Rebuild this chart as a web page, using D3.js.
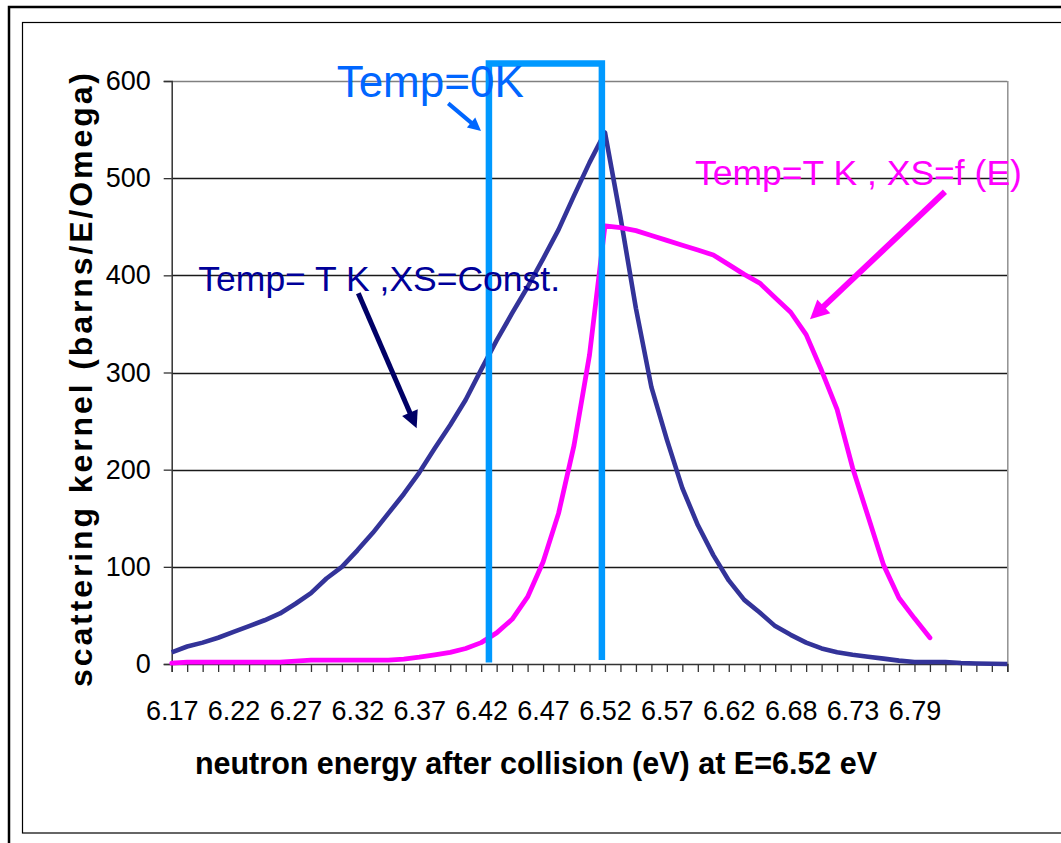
<!DOCTYPE html>
<html>
<head>
<meta charset="utf-8">
<script src="https://cdn.jsdelivr.net/npm/d3@7"></script>
<style>
  html, body { margin: 0; padding: 0; background: #fff; }
  svg { display: block; }
  text { font-family: "Liberation Sans", Arial, sans-serif; }
</style>
</head>
<body>
<svg id="chart" width="1061" height="843"></svg>
<script>
// ---------------- data ----------------
const categories = [
  "6.17","6.18","6.19","6.21",
  "6.22","6.23","6.24","6.26",
  "6.27","6.28","6.29","6.31",
  "6.32","6.33","6.34","6.36",
  "6.37","6.38","6.39","6.41",
  "6.42","6.43","6.44","6.46",
  "6.47","6.48","6.49","6.51",
  "6.52","6.53","6.54","6.56",
  "6.57","6.58","6.59","6.61",
  "6.62","6.63","6.65","6.66",
  "6.68","6.69","6.70","6.72",
  "6.73","6.74","6.76","6.77",
  "6.79","6.80","6.81","6.83",
  "6.84","6.86","6.87"
];
// Temp = T K, XS = const.
const seriesConst = [
  12, 18, 22, 27, 33, 39, 45, 52, 62, 73,
  88, 100, 117, 135, 155, 175, 197, 222, 246, 272,
  303, 333, 361, 388, 417, 447, 482, 516, 547, 460,
  366, 285, 231, 181, 143, 112, 86, 66, 53, 39,
  30, 22, 16, 12, 9.5, 7.5, 5.5, 3.5, 2, 2,
  2, 1, 0.5, 0.3, 0
];
// Temp = T K, XS = f(E)
const seriesFE = [
  1, 2, 2, 2, 2, 2, 2, 2, 3, 4,
  4, 4, 4, 4, 4, 5, 7, 9.5, 12, 16,
  22, 32, 46, 69, 105, 155, 225, 318, 451, 449,
  446, 441, 436, 431, 426, 421, 411, 401, 392, 377,
  362, 339, 302, 262, 202, 152, 102, 68, 47, 27,
  null, null, null, null, null
];
// Temp = 0 K outline (category index, value)
const zeroKIndex = [20.5, 20.5, 27.8, 27.8];
const zeroKValue = [1.5, 618, 618, 4];

const yTicks = [0, 100, 200, 300, 400, 500, 600];
const xLabelEvery = 4;
const xLastLabel = 48;

const yTitle = "scattering kernel (barns/E/Omega)";
const xTitle = "neutron energy after collision (eV) at E=6.52 eV";

// annotations in data space (category index, value)
const annotations = [
  { text: "Temp=0K", idx: 10.66, val: 584, size: 44, color: "#0066ff",
    arrow: [[17.87, 577], [19.99, 548.6]], aw: 4, head: 13 },
  { text: "Temp= T K ,XS=Const.", idx: 1.72, val: 384, size: 35.5, color: "#000099",
    arrow: [[12.06, 381.5], [15.83, 242.6]], aw: 5, head: 17, acolor: "#000066" },
  { text: "Temp=T K , XS=f (E)", idx: 33.82, val: 493, size: 35.5, color: "#ff00ff",
    arrow: [[49.97, 486], [41.25, 354.7]], aw: 6, head: 19 }
];

// ---------------- layout ----------------
const svg = d3.select("#chart");
const plot = { left: 171.7, right: 1007.3, top: 81, bottom: 664 };

const x = d3.scalePoint().domain(categories).range([plot.left, plot.right]).padding(0);
const xi = d3.scaleLinear().domain([0, categories.length - 1]).range([plot.left, plot.right]);
const y = d3.scaleLinear().domain([0, 600]).range([plot.bottom, plot.top]);

// frames
svg.append("rect").attr("x", 9).attr("y", 7).attr("width", 1200).attr("height", 1000)
  .attr("fill", "none").attr("stroke", "#000").attr("stroke-width", 2.5);
svg.append("rect").attr("x", 22.5).attr("y", 22.5).attr("width", 1200).attr("height", 810.5)
  .attr("fill", "none").attr("stroke", "#000").attr("stroke-width", 1.2);

// gridlines
svg.append("g").selectAll("line").data(yTicks.filter(d => d > 0)).join("line")
  .attr("x1", plot.left).attr("x2", plot.right)
  .attr("y1", d => Math.round(y(d)) + 0.5).attr("y2", d => Math.round(y(d)) + 0.5)
  .attr("stroke", d => d === 600 ? "#808080" : "#1a1a1a").attr("stroke-width", 1.3);
// plot-area right border
svg.append("line").attr("x1", plot.right + 0.5).attr("x2", plot.right + 0.5)
  .attr("y1", plot.top).attr("y2", plot.bottom).attr("stroke", "#909090").attr("stroke-width", 1.5);

// y axis
const yAxis = svg.append("g").attr("transform", `translate(${plot.left},0)`)
  .call(d3.axisLeft(y).tickValues(yTicks).tickSize(8).tickPadding(13).tickFormat(d3.format("d")));
yAxis.select(".domain").attr("stroke", "#333").attr("stroke-width", 1.5);
yAxis.selectAll(".tick line").attr("stroke", "#333").attr("stroke-width", 1.3);
yAxis.selectAll("text").attr("font-size", 27).attr("fill", "#000")
  .attr("font-family", "'Liberation Sans', Arial, sans-serif");

// x axis
const xAxis = svg.append("g").attr("transform", `translate(0,${plot.bottom})`)
  .call(d3.axisBottom(x).tickSize(8).tickPadding(29)
    .tickFormat((d, i) => (i % xLabelEvery === 0 && i <= xLastLabel) ? d : ""));
xAxis.select(".domain").attr("stroke", "#333").attr("stroke-width", 1.5);
xAxis.selectAll(".tick line").attr("stroke", "#333").attr("stroke-width", 1.3);
xAxis.selectAll("text").attr("font-size", 27).attr("fill", "#000")
  .attr("font-family", "'Liberation Sans', Arial, sans-serif");

// series lines
const line = d3.line()
  .defined(d => d.v !== null)
  .x(d => x(d.c)).y(d => y(d.v));

svg.append("path")
  .datum(categories.map((c, i) => ({ c, v: seriesConst[i] })))
  .attr("d", line).attr("fill", "none").attr("stroke", "#333399")
  .attr("stroke-width", 4.6).attr("stroke-linejoin", "round");

svg.append("path")
  .datum(categories.map((c, i) => ({ c, v: seriesFE[i] })))
  .attr("d", line).attr("fill", "none").attr("stroke", "#ff00ff")
  .attr("stroke-width", 4.8).attr("stroke-linejoin", "round").attr("stroke-linecap", "round");

// Temp = 0K outline
const zeroLine = d3.line().x(d => xi(d[0])).y(d => y(d[1]));
svg.append("path")
  .datum(zeroKIndex.map((d, i) => [d, zeroKValue[i]]))
  .attr("d", zeroLine).attr("fill", "none").attr("stroke", "#0099ff")
  .attr("stroke-width", 6.5).attr("stroke-linejoin", "miter");

// annotations
annotations.forEach(a => {
  svg.append("text")
    .attr("x", xi(a.idx)).attr("y", y(a.val))
    .attr("font-size", a.size).attr("fill", a.color)
    .text(a.text);
  const [p0, p1] = a.arrow.map(p => [xi(p[0]), y(p[1])]);
  const dx = p1[0] - p0[0], dy = p1[1] - p0[1];
  const len = Math.hypot(dx, dy), ux = dx / len, uy = dy / len;
  const base = [p1[0] - ux * a.head, p1[1] - uy * a.head];
  const hw = a.head * 0.5;
  const col = a.acolor || a.color;
  svg.append("line")
    .attr("x1", p0[0]).attr("y1", p0[1]).attr("x2", base[0] + ux * 2).attr("y2", base[1] + uy * 2)
    .attr("stroke", col).attr("stroke-width", a.aw);
  svg.append("polygon")
    .attr("points", [p1, [base[0] - uy * hw, base[1] + ux * hw], [base[0] + uy * hw, base[1] - ux * hw]]
      .map(p => p.join(",")).join(" "))
    .attr("fill", col);
});

// axis titles
svg.append("text")
  .attr("transform", `translate(92,380) rotate(-90)`)
  .attr("text-anchor", "middle").attr("font-size", 32).attr("font-weight", "bold")
  .attr("textLength", 614).attr("lengthAdjust", "spacing")
  .text(yTitle);

svg.append("text")
  .attr("x", 536).attr("y", 774)
  .attr("text-anchor", "middle").attr("font-size", 30.5).attr("font-weight", "bold")
  .text(xTitle);
</script>
</body>
</html>
